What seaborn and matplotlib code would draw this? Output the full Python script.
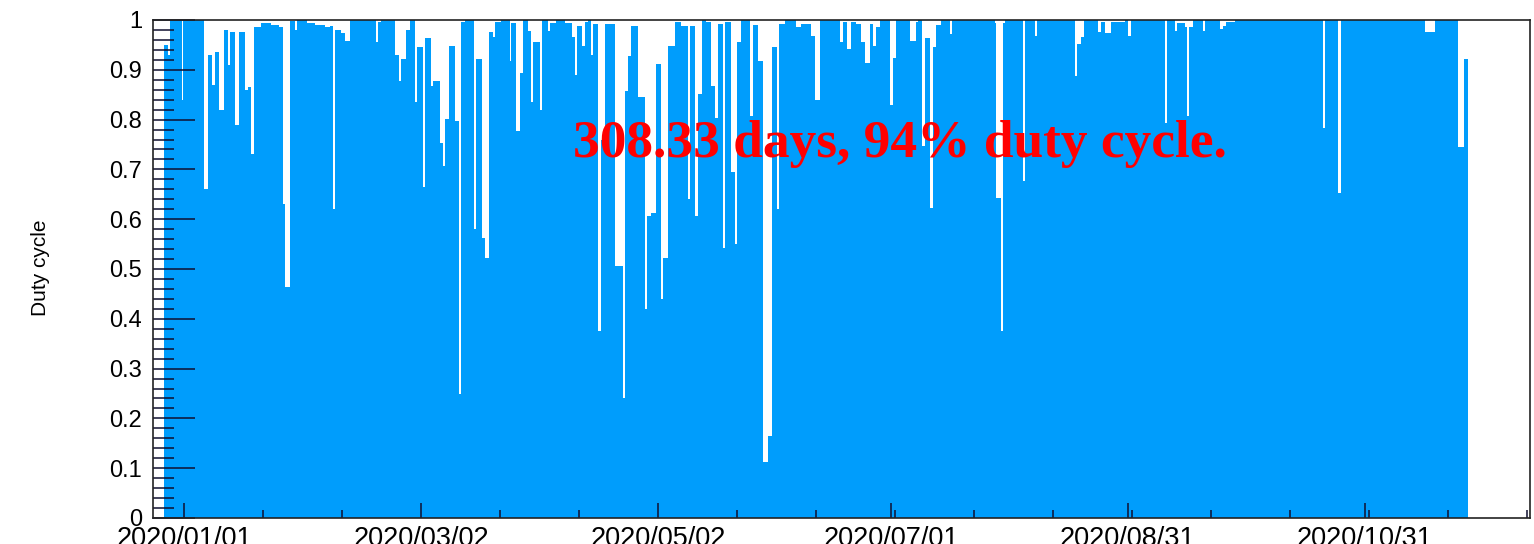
import numpy as np
import pandas as pd
import matplotlib
matplotlib.use("Agg")
import matplotlib.pyplot as plt
import seaborn as sns
from matplotlib.ticker import FixedLocator, FuncFormatter, MultipleLocator

# ---- data: duty cycle as a step series (start of each period in days since 2020-01-01, value) ----
seg_start = [
    -5.15, -4.12, -3.53, -0.64, -0.26, 5.15, 6.18, 7.21, 7.90, 9.01, 10.22, 11.33, 11.92, 13.20,
    14.08, 15.62, 16.47, 17.32, 18.02, 19.82, 22.39, 24.38, 25.48, 26.08, 27.21, 28.49, 29.09,
    31.74, 33.64, 36.22, 37.50, 38.35, 38.94, 40.49, 41.52, 42.65, 49.50, 49.94, 50.79, 54.39,
    55.26, 55.93, 57.22, 58.09, 59.38, 60.05, 61.52, 62.11, 63.50, 64.09, 65.82, 66.67, 67.26,
    68.13, 69.83, 70.71, 71.22, 72.25, 74.65, 75.24, 76.71, 77.55, 78.43, 79.54, 80.13, 81.52,
    83.84, 84.25, 85.53, 86.41, 87.26, 88.55, 89.40, 89.91, 91.56, 92.15, 93.69, 94.13, 95.83,
    98.15, 99.87, 100.72, 101.24, 102.45, 103.29, 103.99, 104.68, 105.28, 106.56, 107.26, 108.44,
    110.86, 113.00, 113.44, 114.29, 115.14, 116.86, 118.74, 119.25, 120.28, 121.57, 122.70,
    123.29, 124.58, 126.46, 128.00, 129.73, 130.24, 131.61, 132.30, 133.33, 134.44, 135.73,
    136.60, 137.45, 138.74, 139.33, 140.72, 141.90, 142.42, 143.45, 145.61, 146.46, 147.75,
    149.03, 150.32, 151.35, 152.72, 153.23, 154.62, 157.61, 158.89, 161.47, 162.50, 163.64,
    168.78, 169.63, 170.73, 171.61, 173.05, 174.18, 175.37, 176.50, 177.35, 178.20, 179.07,
    181.65, 182.50, 183.35, 186.80, 188.49, 188.93, 189.96, 190.66, 191.94, 192.79, 193.64,
    194.77, 197.09, 197.68, 208.68, 209.09, 210.37, 210.81, 211.40, 215.96, 216.55, 218.97,
    219.64, 229.27, 229.94, 230.96, 231.66, 235.26, 235.96, 237.14, 238.53, 242.13, 242.99,
    243.68, 252.43, 252.95, 255.00, 255.68, 257.59, 258.25, 258.69, 259.72, 262.29, 262.73,
    266.60, 267.44, 268.29, 270.45, 293.18, 293.77, 297.04, 297.89, 319.36, 322.08, 327.93,
    329.39,
]
seg_value = [
    0.95, 0.93, 1.0, 0.84, 1.0, 0.66, 0.93, 0.87, 0.935, 0.82, 0.98, 0.91, 0.975, 0.79,
    0.975, 0.86, 0.865, 0.73, 0.985, 0.993, 0.99, 0.985, 0.63, 0.463, 0.998, 0.98, 1.0,
    0.993, 0.99, 0.985, 0.988, 0.62, 0.98, 0.973, 0.958, 1.0, 0.955, 0.995, 1.0, 0.93,
    0.878, 0.922, 0.98, 1.0, 0.835, 0.946, 0.664, 0.963, 0.868, 0.878, 0.754, 0.706, 0.802,
    0.948, 0.797, 0.249, 0.996, 1.0, 0.58, 0.921, 0.563, 0.523, 0.975, 0.965, 0.996, 1.0,
    0.918, 0.993, 0.777, 0.893, 1.0, 0.978, 0.835, 0.955, 0.82, 1.0, 0.978, 0.993, 1.0,
    0.993, 0.965, 0.89, 0.988, 0.948, 0.996, 1.0, 0.93, 0.991, 0.376, 0.76, 0.991,
    0.506, 0.24, 0.858, 0.928, 0.988, 0.845, 0.42, 0.607, 0.613, 0.911, 0.44,
    0.523, 0.948, 0.995, 0.987, 0.64, 0.988, 0.607, 0.851, 1.0, 0.996, 0.868,
    0.804, 0.991, 0.543, 0.995, 0.694, 0.55, 0.955, 1.0, 0.807, 0.989, 0.918,
    0.112, 0.165, 0.946, 0.62, 0.991, 1.0, 0.985, 0.991, 0.968, 0.84, 1.0,
    0.955, 0.995, 0.941, 0.995, 0.991, 0.955, 0.914, 0.991, 0.948, 0.985, 1.0,
    0.83, 0.924, 1.0, 0.958, 0.996, 1.0, 0.747, 0.963, 0.623, 0.946, 0.989,
    1.0, 0.971, 1.0, 0.993, 0.643, 0.376, 0.993, 1.0, 0.677, 1.0, 0.968,
    1.0, 0.888, 0.951, 0.965, 1.0, 0.975, 0.995, 0.973, 0.995, 1.0, 0.968,
    1.0, 0.794, 1.0, 0.978, 0.993, 0.985, 0.807, 0.985, 1.0, 0.978, 1.0,
    0.981, 0.988, 0.995, 1.0, 0.784, 1.0, 0.653, 1.0, 0.975, 1.0, 0.745,
    0.922,
]
data_end = 330.5

tick_days = [0, 61, 122, 182, 243, 304]
tick_labels = ["2020/01/01", "2020/03/02", "2020/05/02", "2020/07/01", "2020/08/31", "2020/10/31"]
annotation = "308.33 days, 94% duty cycle."

# ---- build histogram table ----
edges = [float(v) for v in seg_start] + [float(data_end)]
e = np.array(edges)
df = pd.DataFrame({"t": (e[:-1] + e[1:]) / 2, "duty": seg_value})

sns.set_theme(style="white")
plt.rcParams["font.family"] = ["Liberation Sans", "DejaVu Sans"]

fig = plt.figure(figsize=(15.34, 5.44), dpi=100)
ax = fig.add_axes([153 / 1534, 1 - 518 / 544, (1530 - 153) / 1534, (518 - 20) / 544])

sns.histplot(data=df, x="t", weights="duty", bins=edges, stat="count",
             element="step", fill=True, color="#009DFC", alpha=1.0, linewidth=0, ax=ax)
ax.set_axisbelow(False)

ax.set_xlim(-8.0, 346.5)
ax.set_ylim(0, 1)
ax.set_xlabel("")
ax.set_ylabel("")
fig.text(41 / 1534, 1 - 268 / 544, "Duty cycle", rotation=90, fontsize=15,
         ha="center", va="center", color="black")

# x ticks
step = 61 / 3.0
minor = [tick_days[0] + k * step for k in range(-1, 19)]
ax.xaxis.set_major_locator(FixedLocator(tick_days))
ax.xaxis.set_minor_locator(FixedLocator(minor))
ax.set_xticklabels(tick_labels)
ax.tick_params(axis="x", which="major", direction="in", length=11, width=1.1, color="#101030",
               labelsize=19.5, pad=6, bottom=True, top=False, labelcolor="black")
ax.tick_params(axis="x", which="minor", direction="in", length=6, width=1.1, color="#101030",
               bottom=True, top=False)

# y ticks
ax.yaxis.set_major_locator(MultipleLocator(0.1))
ax.yaxis.set_minor_locator(MultipleLocator(0.02))
ax.yaxis.set_major_formatter(FuncFormatter(lambda v, p: "%g" % round(v, 2)))
ax.tick_params(axis="y", which="major", direction="in", length=30, width=1.1, color="#101030",
               labelsize=17, pad=8, left=True, right=False, labelcolor="black")
ax.tick_params(axis="y", which="minor", direction="in", length=15, width=1.1, color="#101030",
               left=True, right=False)

for s in ax.spines.values():
    s.set_color("#222222")
    s.set_linewidth(1.2)
    s.set_visible(True)
    s.set_zorder(3)

fig.text(573 / 1534, 1 - 157 / 544, annotation, color="red", fontsize=38.4, fontweight="bold",
         family=["Liberation Serif", "DejaVu Serif"], ha="left", va="baseline")

fig.savefig("out.png", dpi=100)
